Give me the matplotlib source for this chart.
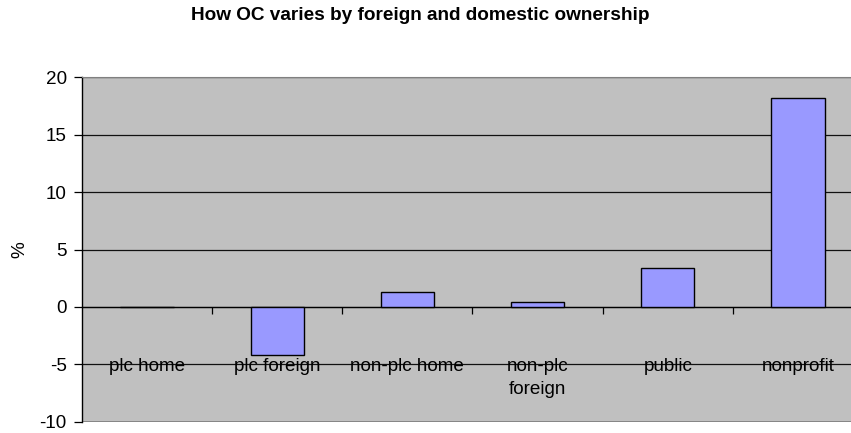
import numpy as np
import matplotlib
matplotlib.use("Agg")
import matplotlib.pyplot as plt

categories = ["plc home", "plc foreign", "non-plc home", "non-plc\nforeign", "public", "nonprofit"]
values = [0.0, -4.2, 1.3, 0.4, 3.4, 18.2]
y_ticks = [-10, -5, 0, 5, 10, 15, 20]
title = "How OC varies by foreign and domestic ownership"

plt.rcParams["font.family"] = ["Liberation Sans", "DejaVu Sans"]
plt.rcParams["axes.unicode_minus"] = False

fig = plt.figure(figsize=(8.51, 4.33), dpi=100)
ax = fig.add_axes([82 / 851, 1 - 421.7 / 433, (863 - 82) / 851, (421.7 - 77.3) / 433])
ax.set_facecolor("#C0C0C0")

x = np.arange(len(categories))
ax.bar(x, values, width=0.41, color="#9999FF", edgecolor="black", linewidth=1.0, zorder=3)

ax.set_xlim(-0.5, len(categories) - 0.5)
ax.set_ylim(y_ticks[0], y_ticks[-1])
ax.set_yticks(y_ticks)
ax.yaxis.grid(True, color="#111111", linewidth=0.9, zorder=1)
ax.set_axisbelow(True)
ax.tick_params(axis="y", direction="out", length=6, width=0.9, pad=5, labelsize=13.6, colors="black")

# category axis crosses at zero, with tick marks between categories
ax.spines["bottom"].set_position(("data", 0))
ax.spines["bottom"].set_linewidth(0.9)
ax.set_xticks(x[:-1] + 0.5)
ax.set_xticklabels([])
ax.tick_params(axis="x", direction="out", length=5, width=0.9)

ax.spines["left"].set_linewidth(1.0)
ax.spines["top"].set_color("#808080")
ax.spines["right"].set_color("#808080")
ax.axhline(y_ticks[0], color="#808080", linewidth=1.2, zorder=2)

for xi, label in zip(x, categories):
    ax.text(xi, -4.45, label, ha="center", va="top", fontsize=13.6,
            linespacing=1.5, zorder=4)

fig.text(20 / 851, 1 - 250 / 433, "%", rotation=90, ha="center", va="center", fontsize=13.6)
fig.text(420 / 851, 1 - 16 / 433, title, ha="center", va="center",
         fontsize=13.7, fontweight="bold")

fig.savefig("out.png", dpi=100)
